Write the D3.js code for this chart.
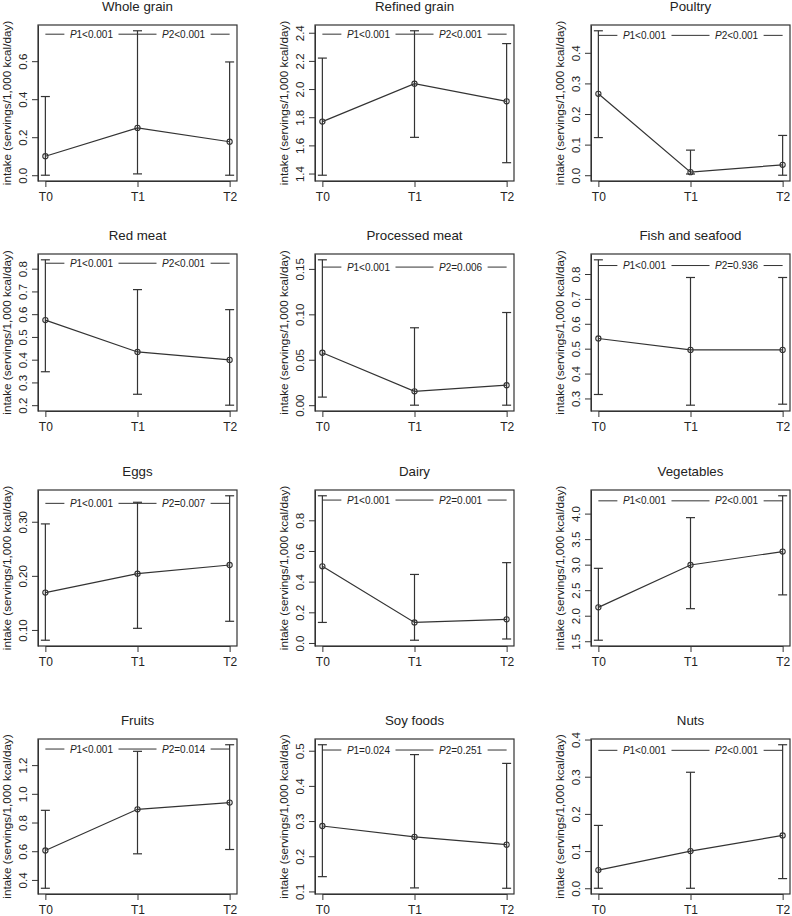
<!DOCTYPE html>
<html><head><meta charset="utf-8">
<script src="https://cdn.jsdelivr.net/npm/d3@7"></script>
<style>
body{margin:0;background:#fff}
svg{display:block}
text{font-family:"Liberation Sans",Arial,sans-serif;fill:#222}
</style>
</head><body><svg id="c" width="792" height="916"></svg>
<script>
const titles = ["Whole grain","Refined grain","Poultry","Red meat","Processed meat","Fish and seafood","Eggs","Dairy","Vegetables","Fruits","Soy foods","Nuts"];
const timepoints = ["T0","T1","T2"];
const meanValues = [
  [0.100,0.249,0.176],[1.769,2.038,1.913],[0.266,0.010,0.034],
  [0.574,0.434,0.399],[0.0577,0.0153,0.022],[0.541,0.495,0.495],
  [0.169,0.204,0.220],[0.500,0.134,0.154],[2.164,2.993,3.257],
  [0.605,0.892,0.939],[0.286,0.255,0.233],[0.049,0.100,0.142]
];
const lowerValues = [
  [0.000,0.007,0.000],[1.388,1.657,1.477],[0.123,0.004,0.000],
  [0.347,0.248,0.200],[0.0089,0.000,0.000],[0.316,0.273,0.277],
  [0.081,0.103,0.116],[0.134,0.018,0.026],[1.520,2.138,2.408],
  [0.342,0.582,0.612],[0.142,0.110,0.109],[0.000,0.000,0.026]
];
const upperValues = [
  [0.414,0.760,0.596],[2.220,2.414,2.323],[0.472,0.082,0.130],
  [0.839,0.708,0.620],[0.160,0.0852,0.102],[0.857,0.786,0.786],
  [0.296,0.336,0.348],[0.960,0.447,0.524],[2.928,3.921,4.349],
  [0.885,1.296,1.342],[0.517,0.489,0.464],[0.169,0.312,0.386]
];
const p1Labels = ["<0.001","<0.001","<0.001","<0.001","<0.001","<0.001","<0.001","<0.001","<0.001","<0.001","=0.024","<0.001"];
const p2Labels = ["<0.001","<0.001","<0.001","<0.001","=0.006","=0.936","=0.007","=0.001","<0.001","=0.014","=0.251","<0.001"];
const pLineValues = [0.742,2.390,0.457,0.824,0.152,0.834,0.334,0.932,4.25,1.312,0.502,0.371];
const yTickLabels = [
  ["0.0","0.2","0.4","0.6"],
  ["1.4","1.6","1.8","2.0","2.2","2.4"],
  ["0.0","0.1","0.2","0.3","0.4"],
  ["0.2","0.3","0.4","0.5","0.6","0.7","0.8"],
  ["0.00","0.05","0.10","0.15"],
  ["0.3","0.4","0.5","0.6","0.7","0.8"],
  ["0.10","0.20","0.30"],
  ["0.0","0.2","0.4","0.6","0.8"],
  ["1.5","2.0","2.5","3.0","3.5","4.0"],
  ["0.4","0.6","0.8","1.0","1.2"],
  ["0.1","0.2","0.3","0.4","0.5"],
  ["0.0","0.1","0.2","0.3","0.4"]
];
const yAxisTitle = "intake (servings/1,000 kcal/day)";

const colLeft = [38, 315, 591], boxW = 199;
const rowTop = [25, 254, 490, 739], rowBottom = [181, 411, 646, 894];
const ink = "#333";
const svg = d3.select("#c");

titles.forEach((title, i) => {
  const r = Math.floor(i / 3), c = i % 3;
  const x0 = colLeft[c], x1 = x0 + boxW, y0 = rowTop[r], y1 = rowBottom[r];
  const g = svg.append("g");
  const inset = boxW * 0.04 / 1.08;
  const x = d3.scalePoint().domain(timepoints).range([x0 + inset, x1 - inset]);
  const lo = d3.min(lowerValues[i]), hi = d3.max(upperValues[i]);
  const pad = (hi - lo) * 0.04;
  const y = d3.scaleLinear().domain([lo - pad, hi + pad]).range([y1, y0]);

  // title
  g.append("text").attr("x", (x0 + x1) / 2).attr("y", y0 - 14)
    .attr("text-anchor", "middle").style("font-size", "13.3px").style("font-weight", "normal").text(title);

  // x axis
  const xa = g.append("g").attr("transform", `translate(0,${y1})`)
    .call(d3.axisBottom(x).tickSize(6).tickSizeOuter(0).tickPadding(5));
  xa.selectAll("line,path").attr("stroke", ink);
  xa.selectAll("text").style("font-size", "12px").style("font-family", '"Liberation Sans",Arial,sans-serif').attr("fill", "#222");

  // y axis
  const tv = yTickLabels[i].map(Number);
  const ya = g.append("g").attr("transform", `translate(${x0},0)`)
    .call(d3.axisLeft(y).tickValues(tv).tickFormat((d, j) => yTickLabels[i][j]).tickSize(6).tickSizeOuter(0));
  ya.selectAll("line,path").attr("stroke", ink);
  ya.selectAll("text").attr("x", null).attr("dy", "0.35em")
    .attr("transform", "translate(-15,0) rotate(-90)")
    .attr("text-anchor", "middle")
    .style("font-size", "11.5px").style("font-family", '"Liberation Sans",Arial,sans-serif').attr("fill", "#222");

  // y title
  g.append("text").attr("transform", `translate(${x0 - 31.5},${(y0 + y1) / 2}) rotate(-90)`)
    .attr("text-anchor", "middle").attr("dy", "0.35em").style("font-size", "11.7px").text(yAxisTitle);

  // box
  g.append("rect").attr("x", x0).attr("y", y0).attr("width", x1 - x0).attr("height", y1 - y0)
    .attr("fill", "none").attr("stroke", ink).attr("stroke-width", 1.2);

  // P line with labels
  const yP = y(pLineValues[i]);
  const m1 = (x("T0") + x("T1")) / 2, m2 = (x("T1") + x("T2")) / 2;
  const mk = (mx, idx, lab) => {
    const t = g.append("text").attr("x", mx).attr("y", yP).attr("dy", "0.35em")
      .attr("text-anchor", "middle").style("font-size", "10px");
    t.append("tspan").style("font-style", "italic").text("P");
    t.append("tspan").text(idx + lab);
    return t.node().getComputedTextLength();
  };
  const w1 = mk(m1, "1", p1Labels[i]), w2 = mk(m2, "2", p2Labels[i]);
  const gap = 5.5;
  const segs = [
    [x("T0"), m1 - w1 / 2 - gap],
    [m1 + w1 / 2 + gap, m2 - w2 / 2 - gap],
    [m2 + w2 / 2 + gap, x("T2")]
  ];
  g.selectAll(".pseg").data(segs).enter().append("line")
    .attr("x1", d => d[0]).attr("x2", d => d[1]).attr("y1", yP).attr("y2", yP)
    .attr("stroke", ink).attr("stroke-width", 1);

  // error bars
  const eb = timepoints.map((t, j) => ({ t, m: meanValues[i][j], lo: lowerValues[i][j], hi: upperValues[i][j] }));
  const cap = 4.5;
  g.selectAll(".ev").data(eb).enter().append("line")
    .attr("x1", d => x(d.t)).attr("x2", d => x(d.t))
    .attr("y1", d => y(d.lo)).attr("y2", d => y(d.hi))
    .attr("stroke", ink).attr("stroke-width", 1.2);
  g.selectAll(".ecu").data(eb).enter().append("line")
    .attr("x1", d => x(d.t) - cap).attr("x2", d => x(d.t) + cap)
    .attr("y1", d => y(d.hi)).attr("y2", d => y(d.hi))
    .attr("stroke", ink).attr("stroke-width", 1.2);
  g.selectAll(".ecl").data(eb).enter().append("line")
    .attr("x1", d => x(d.t) - cap).attr("x2", d => x(d.t) + cap)
    .attr("y1", d => y(d.lo)).attr("y2", d => y(d.lo))
    .attr("stroke", ink).attr("stroke-width", 1.2);

  // mean line + points
  g.append("path").datum(eb)
    .attr("d", d3.line().x(d => x(d.t)).y(d => y(d.m)))
    .attr("fill", "none").attr("stroke", ink).attr("stroke-width", 1.2);
  g.selectAll(".pt").data(eb).enter().append("circle")
    .attr("cx", d => x(d.t)).attr("cy", d => y(d.m)).attr("r", 2.6)
    .attr("fill", "none").attr("stroke", ink).attr("stroke-width", 1.1);
});
</script>
</body></html>
